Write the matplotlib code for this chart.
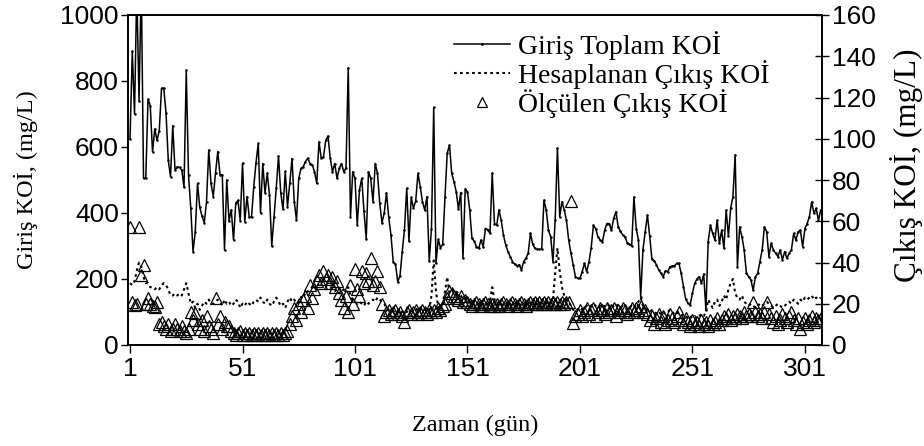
import numpy as np
import matplotlib
matplotlib.use("Agg")
import matplotlib.pyplot as plt
from matplotlib.lines import Line2D

# ---------------- data ----------------
inlet_cod = [
    625, 890, 700, 1080, 740, 1100, 505, 505, 745, 725,
    585, 655, 620, 650, 778, 778, 703, 560, 510, 665,
    530, 540, 538, 530, 478, 833, 515, 415, 283, 343,
    490, 417, 391, 370, 434, 591, 490, 450, 521, 586,
    516, 516, 288, 500, 377, 410, 318, 430, 438, 377,
    551, 374, 450, 387, 387, 480, 552, 611, 400, 550,
    461, 521, 455, 300, 387, 475, 573, 461, 411, 526,
    419, 490, 565, 434, 378, 505, 535, 540, 556, 566,
    550, 546, 525, 490, 616, 566, 570, 620, 633, 566,
    525, 550, 505, 535, 550, 525, 536, 840, 389, 525,
    505, 364, 470, 505, 405, 321, 525, 505, 434, 550,
    520, 430, 370, 400, 461, 387, 333, 252, 245, 192,
    209, 283, 350, 475, 315, 447, 415, 437, 520, 480,
    434, 409, 450, 255, 352, 720, 248, 320, 295, 305,
    448, 581, 606, 520, 495, 465, 412, 462, 263, 473,
    465, 409, 323, 315, 298, 293, 318, 298, 353, 350,
    338, 521, 368, 363, 409, 378, 333, 303, 283, 268,
    253, 245, 240, 243, 228, 253, 263, 278, 339, 305,
    293, 290, 290, 290, 439, 409, 348, 328, 252, 380,
    596, 389, 434, 410, 378, 318, 278, 242, 207, 202,
    202, 222, 248, 222, 252, 295, 363, 353, 328, 318,
    313, 348, 368, 368, 348, 384, 404, 358, 345, 333,
    328, 310, 305, 300, 449, 353, 318, 146, 288, 343,
    394, 330, 260, 255, 243, 228, 217, 207, 225, 222,
    237, 239, 240, 247, 247, 217, 177, 139, 127, 122,
    157, 187, 200, 207, 187, 215, 106, 313, 363, 338,
    318, 378, 308, 348, 293, 409, 330, 414, 449, 576,
    237, 358, 328, 288, 217, 207, 197, 166, 207, 217,
    252, 288, 358, 343, 268, 308, 288, 278, 268, 288,
    258, 283, 263, 278, 288, 338, 318, 343, 348, 298,
    353, 368, 389, 434, 399, 414, 378, 409,
]

calc_out_cod = [
    30, 29, 31, 36, 40, 38, 33, 30, 30, 28,
    28, 27, 28, 27, 29, 30, 29, 27, 24, 24,
    25, 24, 25, 24, 27, 30, 25, 20, 21, 18,
    20, 17, 19, 21, 20, 22, 20, 20, 21, 22,
    21, 19, 22, 20, 21, 19, 20, 22, 21, 18,
    20, 19, 21, 20, 19, 21, 22, 21, 23, 21,
    20, 22, 20, 19, 21, 23, 21, 19, 20, 18,
    21, 23, 21, 22, 20, 21, 23, 25, 24, 26,
    27, 28, 27, 30, 29, 31, 30, 29, 28, 28,
    27, 26, 27, 25, 26, 27, 28, 28, 24, 22,
    21, 20, 21, 20, 19, 21, 20, 21, 22, 21,
    23, 22, 21, 20, 18, 17, 17, 16, 17, 16,
    15, 16, 17, 16, 17, 17, 16, 17, 18, 17,
    18, 17, 18, 17, 24, 41, 26, 18, 19, 20,
    26, 33, 25, 26, 27, 26, 25, 24, 22, 23,
    22, 21, 20, 21, 20, 20, 19, 20, 19, 20,
    21, 28, 22, 20, 21, 20, 19, 20, 19, 20,
    19, 20, 19, 20, 19, 20, 19, 20, 21, 20,
    19, 20, 19, 20, 21, 20, 21, 20, 22, 35,
    47, 36, 28, 24, 22, 21, 19, 17, 18, 17,
    18, 17, 18, 19, 18, 19, 20, 19, 18, 19,
    18, 19, 20, 19, 18, 19, 20, 19, 18, 19,
    18, 17, 18, 19, 18, 20, 21, 23, 19, 18,
    17, 16, 17, 16, 15, 16, 15, 16, 15, 16,
    17, 16, 15, 16, 15, 14, 15, 14, 13, 14,
    13, 14, 13, 14, 15, 14, 16, 22, 20, 18,
    21, 22, 19, 21, 24, 22, 27, 30, 32, 25,
    23, 22, 24, 21, 20, 19, 20, 19, 18, 19,
    20, 19, 20, 21, 20, 19, 18, 19, 20, 19,
    18, 19, 20, 21, 20, 22, 21, 20, 22, 21,
    23, 22, 23, 24, 22, 23, 22, 23,
]

meas_out_cod = [
    57, 21, 19.5, 20, 57, 34, 39, 20, 23, 20, 19, 18.6, 21,
    10, 11, 9, 8, 10, 7, 8, 10, 8, 7, 9, 7, 6, 8,
    16, 12, 15.5, 10, 8, 12, 7, 14, 9, 8, 6, 23, 10, 14, 8, 11, 9,
    9, 7, 6, 5, 6, 7, 5, 6, 5, 6, 5, 6, 5, 6, 5, 6, 5, 6, 5, 6, 5, 6, 5, 6, 5, 6, 7,
    10, 14, 18, 12, 20, 16, 22, 24, 18, 29, 23, 27, 31, 34, 30, 36, 32, 34, 30, 33, 28, 31, 25,
    22, 18, 24, 16, 29, 20, 37, 27, 24, 36, 30, 35, 31, 42, 29, 31, 36, 28, 20, 14,
    16, 17, 15, 16, 17, 15, 16, 14, 11, 16, 17, 15, 16, 17, 15, 16, 17, 16, 15, 17, 16,
    17, 16, 18, 17, 19, 20, 23, 26, 25, 24, 23, 22, 24, 21, 22,
    21, 20, 19, 20, 21, 20, 19, 20, 21, 20, 19, 20, 19, 20, 19, 20, 21, 20, 19, 20,
    21, 20, 19, 20, 21, 20, 19, 20, 21, 20, 21, 20, 21, 20, 21, 20, 21, 20, 21, 20,
    21, 20, 21, 20, 21, 21,
    70, 10.6,
    14, 15, 17, 14, 16, 18, 15, 17, 18, 14, 16, 18, 17, 15, 18, 16, 17, 18, 14, 17,
    16, 18, 17, 15, 16, 18, 16,
    18, 17, 19, 16, 17, 15, 12, 14, 10, 13, 15, 11, 14, 10, 12, 15, 13, 11, 14, 16,
    12, 10, 13, 11, 9, 12, 10, 11, 9, 12, 10, 11, 9, 12, 10, 11, 13, 10, 12, 14,
    13, 15, 12, 14, 13, 15, 14, 13, 16, 14, 15, 14, 21, 16, 14, 15, 13, 16, 21, 15,
    13, 11, 14, 10, 12, 15, 13, 11, 14, 16, 12, 10, 13, 8, 11, 13, 10, 12, 14, 11,
    13, 12, 13,
]

x_ticks = [1, 51, 101, 151, 201, 251, 301]
left_ticks = [0, 200, 400, 600, 800, 1000]
right_ticks = [0, 20, 40, 60, 80, 100, 120, 140, 160]

labels = ["Giriş Toplam KOİ", "Hesaplanan Çıkış KOİ", "Ölçülen Çıkış KOİ"]
xlabel = "Zaman (gün)"
ylabel_left = "Giriş KOİ, (mg/L)"
ylabel_right = "Çıkış KOİ, (mg/L)"

# ---------------- plot ----------------
serif = ["Liberation Serif", "DejaVu Serif"]
sans = ["Liberation Sans", "DejaVu Sans"]
W, H = 924, 446
L, R, T, B = 128, 822, 15, 345

fig = plt.figure(figsize=(W / 100, H / 100), dpi=100)
ax = fig.add_axes([L / W, 1 - B / H, (R - L) / W, (B - T) / H])
ax2 = ax.twinx()

d_in = np.arange(1, len(inlet_cod) + 1)
d_calc = np.arange(1, len(calc_out_cod) + 1)
d_meas = np.arange(1, len(meas_out_cod) + 1)

ax.plot(d_in, inlet_cod, color="black", lw=1.1, marker="o", ms=1.8,
        markerfacecolor="black", markeredgewidth=0, zorder=3)

ax2.plot(d_calc, calc_out_cod, color="black", lw=1.5, ls=(0, (1.3, 1.6)), zorder=2)
ax2.plot(d_meas, meas_out_cod, ls="none", marker="^", ms=8.5,
         markerfacecolor="none", markeredgecolor="black", markeredgewidth=0.9, zorder=3)

ax.set_xlim(0.1, 308.6)
ax.set_ylim(0, 1000)
ax2.set_ylim(0, 160)

tick_fs = 19
ax.set_xticks(x_ticks)
ax.set_xticklabels([str(t) for t in x_ticks], fontfamily=sans, fontsize=tick_fs)
ax.set_yticks(left_ticks)
ax.set_yticklabels([str(t) for t in left_ticks], fontfamily=sans, fontsize=tick_fs)
ax2.set_yticks(right_ticks)
ax2.set_yticklabels([str(t) for t in right_ticks], fontfamily=sans, fontsize=tick_fs)

ax.tick_params(axis="x", direction="out", length=6, width=1, pad=3)
ax.tick_params(axis="y", direction="out", length=5, width=1, pad=1.5)
ax2.tick_params(axis="y", direction="inout", length=10, width=1, pad=2)

for a in (ax, ax2):
    for s in a.spines.values():
        s.set_linewidth(1.2)
        s.set_color("black")

lab_fs = 17.5
ax.set_xlabel(xlabel, fontfamily=serif, fontsize=lab_fs)
ax.xaxis.set_label_coords(0.5, (B - 415) / (B - T))
ax.set_ylabel(ylabel_left, fontfamily=serif, fontsize=lab_fs)
ax.yaxis.set_label_coords((38 - L) / (R - L), 0.5)
ax2.set_ylabel(ylabel_right, fontfamily=serif, fontsize=22.5)
ax2.yaxis.set_label_coords((890 - L) / (R - L), (B - 165) / (B - T))

handles = [
    Line2D([], [], color="black", lw=1.1, marker="o", ms=2.0, markeredgewidth=0),
    Line2D([], [], color="black", lw=1.5, ls=(0, (1.3, 1.6))),
    Line2D([], [], ls="none", marker="^", ms=6.5, markerfacecolor="none",
           markeredgecolor="black", markeredgewidth=0.9),
]
leg = fig.legend(handles, labels, loc="upper left", bbox_to_anchor=(454 / W, 1 - 31 / H),
                 frameon=False, prop={"family": serif, "size": 20},
                 handlelength=2.0, handletextpad=0.3, labelspacing=0.0,
                 borderpad=0, borderaxespad=0, numpoints=1)

fig.savefig("out.png", dpi=100)
